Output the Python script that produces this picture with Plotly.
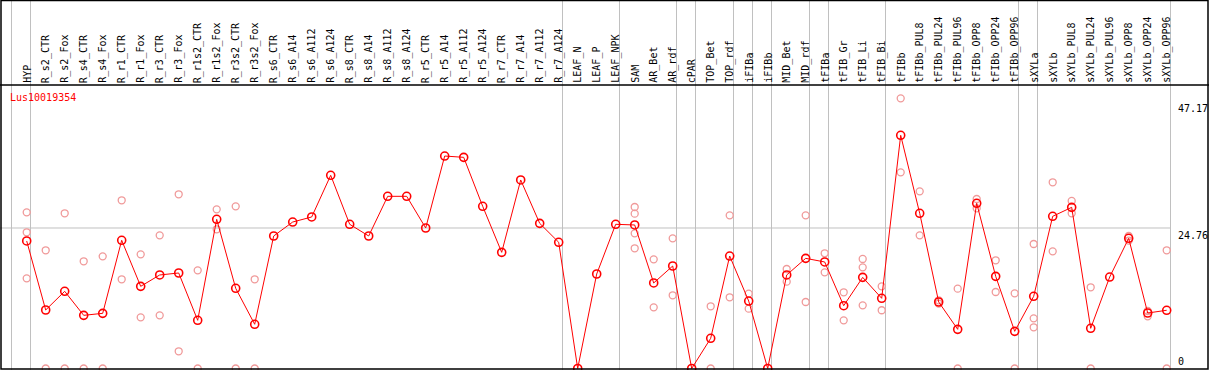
import plotly.graph_objects as go

gene = "Lus10019354"

labels = ["HYP", "R_s2_CTR", "R_s2_Fox", "R_s4_CTR", "R_s4_Fox", "R_r1_CTR", "R_r1_Fox",
          "R_r3_CTR", "R_r3_Fox", "R_r1s2_CTR", "R_r1s2_Fox", "R_r3s2_CTR", "R_r3s2_Fox",
          "R_s6_CTR", "R_s6_A14", "R_s6_A112", "R_s6_A124", "R_s8_CTR", "R_s8_A14",
          "R_s8_A112", "R_s8_A124", "R_r5_CTR", "R_r5_A14", "R_r5_A112", "R_r5_A124",
          "R_r7_CTR", "R_r7_A14", "R_r7_A112", "R_r7_A124", "LEAF_N", "LEAF_P", "LEAF_NPK",
          "SAM", "AR_Bet", "AR_rdf", "cPAR", "TOP_Bet", "TOP_rdf", "iFIBa", "iFIBb",
          "MID_Bet", "MID_rdf", "tFIBa", "tFIB_Gr", "tFIB_Li", "tFIB_Bi", "tFIBb",
          "tFIBb_PUL8", "tFIBb_PUL24", "tFIBb_PUL96", "tFIBb_OPP8", "tFIBb_OPP24",
          "tFIBb_OPP96", "sXYLa", "sXYLb", "sXYLb_PUL8", "sXYLb_PUL24", "sXYLb_PUL96",
          "sXYLb_OPP8", "sXYLb_OPP24", "sXYLb_OPP96"]

means = [22.47, 10.31, 13.60, 9.37, 9.72, 22.59, 14.48, 16.48, 16.83, 8.49, 26.29, 14.13, 7.79,
         23.35, 25.81, 26.70, 34.04, 25.41, 23.35, 30.34, 30.34, 24.76, 37.44, 37.21, 28.58,
         20.47, 33.22, 25.58, 22.24,
         0, 16.65, 25.41, 25.29, 15.07, 18.06, 0, 5.32, 19.82, 11.89, 0, 16.48, 19.41, 18.77,
         11.07, 16.06, 12.37, 41.09,
         27.35, 11.72, 6.90, 29.11, 16.24, 6.55, 12.72, 26.82, 28.40, 7.08, 16.12, 22.94,
         9.78, 10.26]

reps = [[27.52, 24.00, 15.89], [20.83, 0], [27.35, 0], [18.89, 0], [19.77, 0],
        [29.64, 15.72], [20.12, 9.02], [23.47, 9.37], [30.70, 3.03], [17.30, 0],
        [28.05, 24.53], [28.58, 0], [15.72, 0],
        [], [], [], [], [], [], [], [], [], [], [], [], [], [], [], [], [], [], [],
        [28.46, 27.28, 23.82, 21.18], [19.24, 10.78], [22.94, 12.90], [], [10.96, 0],
        [26.99, 12.55], [13.19, 10.54], [], [17.53, 15.30], [26.99, 11.72],
        [20.30, 16.95], [13.43, 8.49], [19.30, 17.83, 11.13], [14.48, 10.26],
        [47.61, 34.57], [31.22, 23.47], [12.02, 11.43], [14.07, 0], [29.87, 28.23],
        [19.07, 13.48], [13.25, 0], [21.94, 8.84, 7.26], [32.81, 20.65], [29.52, 27.35],
        [14.31, 0], [], [23.35, 22.55], [10.13, 9.19], [20.83, 0]]

group_ends = [-1, 0, 28, 31, 34, 35, 37, 38, 39, 41, 42, 45, 52, 53, 60]
y_ticks = [47.17, 24.76, 0]

W, H = 1209, 370
x0px, dx = 26.7, 19.0
y0px, dy = 368.5, 5.675

xr = [-x0px / dx, (W - x0px) / dx]
yr = [(y0px - H) / dy, y0px / dy]

rx, ry = [], []
for i, vals in enumerate(reps):
    for v in vals:
        rx.append(i)
        ry.append(v)

fig = go.Figure()
fig.add_trace(go.Scatter(x=rx, y=ry, mode="markers",
                         marker=dict(symbol="circle-open", size=7, color="#f09a9a",
                                     line=dict(width=1.3, color="#f09a9a")),
                         hoverinfo="skip", showlegend=False, cliponaxis=False))
fig.add_trace(go.Scatter(x=list(range(len(means))), y=means, mode="lines+markers",
                         line=dict(color="#ff0000", width=1),
                         marker=dict(symbol="circle-open", size=8, color="#ff0000",
                                     line=dict(width=1.6, color="#ff0000")),
                         showlegend=False, cliponaxis=False))

shapes = []
grid = "#c0c0c0"
for g in group_ends:
    shapes.append(dict(type="line", xref="x", yref="paper", x0=g + 0.2, x1=g + 0.2,
                       y0=0, y1=1, line=dict(color=grid, width=1), layer="below"))
shapes.append(dict(type="line", xref="paper", yref="y", x0=0, x1=1170 / W,
                   y0=y_ticks[1], y1=y_ticks[1], line=dict(color=grid, width=1), layer="below"))
# frame and header separator
shapes.append(dict(type="rect", xref="paper", yref="paper", x0=1 / W, x1=1208 / W,
                   y0=1 - 369 / H, y1=1 - 0.5 / H, line=dict(color="black", width=1.5)))
shapes.append(dict(type="line", xref="paper", yref="paper", x0=0, x1=1,
                   y0=1 - 85 / H, y1=1 - 85 / H, line=dict(color="black", width=1.5)))

mono = "DejaVu Sans Mono"
ann = []
for i, lab in enumerate(labels):
    ann.append(dict(x=i, xref="x", y=1 - 84 / H, yref="paper", text=lab, textangle=-90,
                    xanchor="center", yanchor="bottom", showarrow=False,
                    font=dict(family=mono, size=10, color="black"), borderpad=0))
ann.append(dict(x=8 / W, xref="paper", y=1 - 97 / H, yref="paper", text=gene,
                xanchor="left", yanchor="middle", showarrow=False,
                font=dict(family=mono, size=10, color="#ff0000")))
for v, anc in zip(y_ticks, ["top", "top", "bottom"]):
    ann.append(dict(x=1176 / W, xref="paper", y=v, yref="y", text=f"{v:g}" if v == 0 else f"{v:.2f}",
                    xanchor="left", yanchor=anc, showarrow=False,
                    font=dict(family=mono, size=10, color="black")))

fig.update_layout(width=W, height=H, margin=dict(l=0, r=0, t=0, b=0),
                  paper_bgcolor="white", plot_bgcolor="white",
                  xaxis=dict(range=xr, visible=False, fixedrange=True),
                  yaxis=dict(range=yr, visible=False, fixedrange=True),
                  shapes=shapes, annotations=ann)

fig.write_html("out.html", config={"displayModeBar": False},
               post_script="document.body.style.margin='0';document.body.style.overflow='hidden';")
